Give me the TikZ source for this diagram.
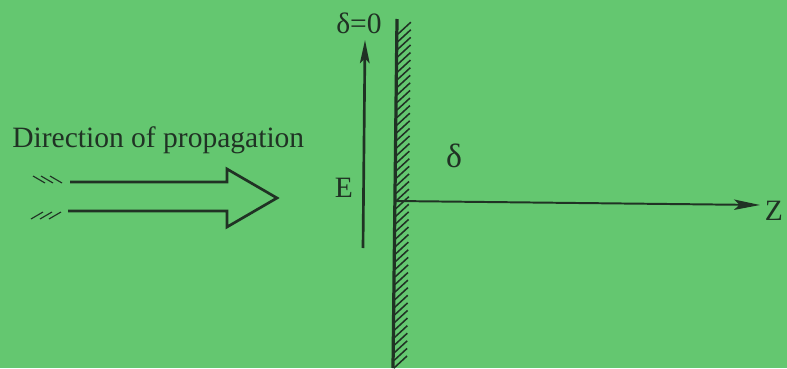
\documentclass[tikz,border=0pt]{standalone}
\usepackage{fontspec}
\setmainfont{Liberation Serif}
\usetikzlibrary{arrows.meta,calc,positioning}

\definecolor{bggreen}{RGB}{100,199,112}
\definecolor{ink}{RGB}{32,50,36}

\begin{document}
\begin{tikzpicture}[
    x=0.025cm, y=-0.025cm,
    tag/.style={text=ink, font=\fontsize{21}{25}\selectfont, inner sep=0pt, anchor=base},
    wallline/.style={draw=ink, line width=2.3pt},
    hatchline/.style={draw=ink, line width=1.1pt},
    field/.style={draw=ink, line width=1.9pt, -{Stealth[length=0.58cm, width=0.24cm, inset=0.12cm]}},
    zaxis/.style={draw=ink, line width=1.4pt, -{Stealth[length=0.65cm, width=0.26cm, inset=0.14cm]}},
    hollow/.style={draw=ink, line width=1.9pt, line join=miter},
    streak/.style={draw=ink, line width=0.8pt}
]

% Background
\fill[bggreen] (0,0) rectangle (787,368);
\useasboundingbox (0,0) rectangle (787,368);

% Conducting wall
\coordinate (wtop) at (397,19);
\coordinate (wbot) at (393,368);
\draw[wallline] (wtop) -- (wbot);
\foreach \i in {2,...,46}
  \draw[hatchline] ($(wtop)!{\i/46}!(wbot)$) ++(1,0) -- ++(13,-12);

% Field and axis
\coordinate (ebot) at (363,248);
\coordinate (etop) at (365,40);
\draw[field] (ebot) -- (etop);
\coordinate (origin) at (395,201);
\coordinate (zend) at (760,205);
\draw[zaxis] (origin) -- (zend);

% Labels
\node[tag] (delta0) at (359,33) {δ=0};
\node[tag] (efield) at (344,197) {E};
\node[tag, font=\fontsize{24}{28}\selectfont] (delta) at (454,167) {δ};
\node[tag] (zlabel) at (774,220) {Z};
\node[tag, anchor=base west] (direction) at (12,147) {Direction of propagation};

% Hollow arrow
\coordinate (ta) at (70,182);
\coordinate (tb) at (227,182);
\coordinate (tc) at (227,169);
\coordinate (tip) at (277,198);
\coordinate (bc) at (227,227);
\coordinate (bb) at (227,211);
\coordinate (ba) at (68,211);
\draw[hollow] (ta) -- (tb) -- (tc) -- (tip) -- (bc) -- (bb) -- (ba);
\foreach \x in {33,41,50} \draw[streak] (\x,176) -- ++(12,7);
\foreach \x in {31,40,49} \draw[streak] (\x,219) -- ++(12,-7);

\end{tikzpicture}
\end{document}
